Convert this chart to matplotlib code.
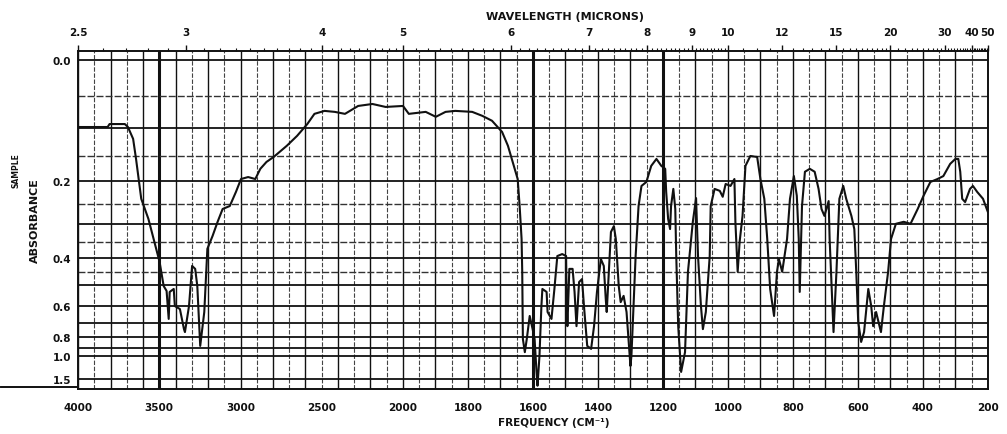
import matplotlib
matplotlib.use("Agg")
import matplotlib.pyplot as plt
import numpy as np

# spectrum: frequency (cm-1) and transmittance (%)
freq = [4000, 3818, 3806, 3712, 3693, 3661, 3643, 3611, 3567, 3530, 3498, 3473,
        3455, 3442, 3436, 3411, 3404, 3373, 3348, 3342, 3317, 3298, 3279, 3266,
        3248, 3223, 3204, 3172, 3141, 3110, 3066, 3028, 2997, 2953, 2909, 2878,
        2840, 2796, 2715, 2652, 2589, 2545, 2483, 2420, 2357, 2276, 2188, 2107,
        2000, 1982, 1930, 1899, 1869, 1839, 1787, 1756, 1726, 1695, 1677, 1665,
        1647, 1641, 1635, 1633, 1631, 1625, 1619, 1610, 1601, 1595, 1589, 1586,
        1580, 1574, 1571, 1558, 1555, 1543, 1534, 1525, 1510, 1498, 1496, 1494,
        1488, 1478, 1472, 1466, 1458, 1449, 1443, 1433, 1421, 1412, 1403, 1391,
        1382, 1376, 1373, 1360, 1351, 1345, 1336, 1330, 1321, 1312, 1300, 1297,
        1284, 1275, 1266, 1251, 1236, 1220, 1205, 1193, 1190, 1184, 1178, 1175,
        1168, 1162, 1159, 1153, 1144, 1132, 1123, 1108, 1098, 1092, 1083, 1077,
        1068, 1056, 1053, 1041, 1025, 1016, 1007, 992, 980, 977, 970, 964, 955,
        946, 931, 910, 900, 888, 879, 870, 858, 849, 843, 833, 818, 809, 797,
        788, 782, 779, 772, 763, 748, 733, 721, 712, 703, 690, 687, 675, 666,
        657, 645, 636, 620, 611, 605, 599, 590, 581, 568, 559, 553, 544, 529,
        520, 507, 498, 483, 459, 438, 416, 398, 377, 355, 337, 316, 300, 291,
        285, 279, 270, 255, 246, 233, 215, 200]
trans = [79.6, 79.6, 80.5, 80.5, 79.6, 76.0, 69.9, 57.8, 51.7, 44.7, 38.6, 31.3,
         29.8, 21.3, 29.5, 30.4, 25.2, 24.3, 18.2, 17.3, 25.2, 37.4, 36.5, 31.3,
         13.1, 23.4, 42.6, 46.5, 50.8, 54.7, 55.6, 59.9, 63.8, 64.4, 63.8, 66.9,
         69.0, 70.5, 73.9, 76.9, 80.5, 83.6, 84.5, 84.2, 83.6, 86.0, 86.6, 85.7,
         86.0, 83.6, 84.2, 82.7, 84.2, 84.5, 84.2, 83.0, 81.5, 78.1, 73.9, 69.9,
         63.8, 55.6, 45.6, 35.6, 15.2, 11.2, 15.2, 22.2, 18.2, 15.2, 5.2, 1.0,
         10.0, 25.2, 30.4, 29.5, 23.4, 21.3, 30.4, 40.4, 41.0, 40.4, 25.2, 19.1,
         36.5, 36.5, 29.5, 19.1, 32.5, 33.4, 25.2, 13.1, 12.2, 19.1, 29.5, 39.5,
         37.4, 27.4, 23.4, 47.7, 49.5, 45.6, 31.3, 26.4, 28.3, 23.4, 7.0, 10.0,
         40.4, 55.6, 61.7, 62.9, 67.8, 69.9, 67.8, 66.9, 59.9, 51.7, 48.6, 55.6,
         60.8, 54.7, 40.4, 19.1, 5.2, 11.2, 35.6, 50.8, 58.0, 40.4, 25.2, 18.2,
         23.4, 40.4, 55.6, 60.8, 60.2, 58.4, 62.3, 61.7, 63.8, 50.8, 35.6, 44.7,
         52.6, 67.8, 70.8, 70.5, 63.8, 57.8, 45.6, 30.4, 22.2, 35.6, 39.5, 35.6,
         45.6, 57.8, 64.7, 58.7, 45.6, 29.5, 55.6, 66.0, 66.9, 66.0, 60.8, 54.7,
         52.6, 57.1, 45.6, 17.3, 35.6, 57.8, 61.7, 57.8, 52.6, 48.6, 35.6, 20.4,
         14.3, 17.3, 30.4, 25.2, 19.1, 23.4, 17.3, 25.2, 35.6, 45.6, 50.2, 50.8,
         50.2, 54.7, 58.7, 62.9, 63.8, 64.7, 68.4, 69.9, 69.9, 66.0, 57.8, 56.8,
         60.8, 61.7, 59.9, 57.8, 53.8]

FREQ_TICKS = [4000, 3500, 3000, 2500, 2000, 1800, 1600, 1400, 1200, 1000, 800, 600, 400, 200]
WAVE_TICKS = [2.5, 3, 4, 5, 6, 7, 8, 9, 10, 12, 15, 20, 30, 40, 50]
ABS_LABELS = [0.0, 0.2, 0.4, 0.6, 0.8, 1.0, 1.5]
ABS_GRID_MAJOR = [0.0, 0.1, 0.2, 0.3, 0.4, 0.5, 0.6, 0.7, 0.8, 0.9, 1.0, 1.5]
ABS_GRID_MINOR = [0.05, 0.15, 0.25, 0.35, 0.45]
HEAVY_LINES = [3500, 1600, 1200]

INK = "#111111"


def fwd(nu):
    # chart paper: half scale above 2000 cm-1
    nu = np.asarray(nu, dtype=float)
    return np.where(nu > 2000, 2000 + (nu - 2000) / 2, nu)


def inv(u):
    u = np.asarray(u, dtype=float)
    return np.where(u > 2000, 2000 + (u - 2000) * 2, u)


def abs_to_t(a):
    return 100 * 10 ** (-np.asarray(a, dtype=float))


fig = plt.figure(figsize=(10.07, 4.35), dpi=100)
ax = fig.add_axes([0.0775, 0.1034, 0.9035, 0.7771])
ax.set_xscale("function", functions=(fwd, inv))
ax.set_xlim(4000, 200)
ax.set_ylim(0, 102.7)

# chart paper grid
vlines = list(range(2000, 4001, 100)) + list(range(250, 2000, 50))
for nu in vlines:
    major = (nu % 200 == 0) if nu >= 2000 else (nu % 100 == 0)
    if nu in HEAVY_LINES:
        ax.axvline(nu, color=INK, lw=2.2, zorder=1)
    elif major:
        ax.axvline(nu, color=INK, lw=1.0, zorder=1)
    else:
        ax.axvline(nu, color="#444444", lw=0.8, ls=(0, (4, 1.5)), zorder=1)
for a in ABS_GRID_MAJOR:
    ax.axhline(abs_to_t(a), color=INK, lw=1.3, zorder=1)
for a in ABS_GRID_MINOR:
    ax.axhline(abs_to_t(a), color="#333333", lw=1.0, ls=(0, (5, 1.5)), zorder=1)

ax.plot(freq, trans, color=INK, lw=1.5, zorder=3)

for s in ax.spines.values():
    s.set_color(INK)
    s.set_linewidth(1.4)

tick_font = dict(fontsize=7.5, fontweight="bold", color=INK)
ax.set_xticks(FREQ_TICKS)
ax.set_xticklabels([str(f) for f in FREQ_TICKS], **tick_font)
ax.xaxis.set_minor_locator(plt.NullLocator())
ax.tick_params(axis="x", length=0, pad=9)
ax.set_yticks(abs_to_t(ABS_LABELS))
ax.set_yticklabels([f"{a:.1f}" for a in ABS_LABELS], **tick_font)
ax.tick_params(axis="y", length=0, pad=5)

# wavelength scale along the top
top = ax.twiny()
top.set_xscale("function", functions=(fwd, inv))
top.set_xlim(ax.get_xlim())
top.set_xticks([1e4 / w for w in WAVE_TICKS])
top.set_xticklabels([f"{w:g}" for w in WAVE_TICKS], **tick_font)
minor_waves = np.concatenate([np.arange(2.5, 5.0, 0.1), np.arange(5.0, 10.0, 0.1),
                              np.arange(10, 20, 0.5), np.arange(20, 50, 1.0)])
top.set_xticks(1e4 / minor_waves, minor=True)
top.tick_params(axis="x", which="major", length=4, width=1.0, pad=6, color=INK)
top.tick_params(axis="x", which="minor", length=2.5, width=0.8, color=INK)
for s in top.spines.values():
    s.set_visible(False)

# axis extension at the lower left
ax.plot([-0.085, 0], [0.006, 0.006], transform=ax.transAxes, color=INK, lw=1.4, clip_on=False)

fig.text(0.561, 0.962, "WAVELENGTH (MICRONS)", ha="center", va="center",
         fontsize=8, fontweight="bold", color=INK)
fig.text(0.55, 0.028, "FREQUENCY (CM\u207b\u00b9)", ha="center", va="center",
         fontsize=7.5, fontweight="bold", color=INK)
fig.text(0.016, 0.607, "SAMPLE", rotation=90, ha="center", va="center",
         fontsize=5.5, fontweight="bold", color=INK)
fig.text(0.035, 0.492, "ABSORBANCE", rotation=90, ha="center", va="center",
         fontsize=8, fontweight="bold", color=INK)

fig.savefig("out.png", dpi=100)
